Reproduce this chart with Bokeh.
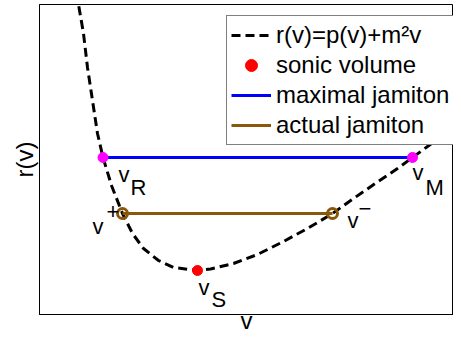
from bokeh.plotting import figure
from bokeh.models import Range1d, FixedTicker, Legend, LegendItem, Label
from bokeh.embed import file_html
from bokeh.resources import INLINE

# curve r(v) = p(v) + m^2 v (arbitrary units)
v_curve = [0.925, 0.975, 1.10, 1.20, 1.325, 1.45, 1.5875, 1.80, 2.075, 2.325, 2.60,
           2.975, 3.35, 3.95, 4.275, 4.85, 5.45, 6.10, 6.70, 7.325, 7.85, 8.45,
           8.95, 9.325, 9.70, 10.15, 10.65]
r_curve = [8.05, 7.75, 7.025, 6.175, 5.35, 4.525, 3.925, 3.225, 2.525, 2.025, 1.65,
           1.35, 1.175, 1.10, 1.1375, 1.275, 1.50, 1.825, 2.15, 2.525, 2.90, 3.3125,
           3.65, 3.925, 4.20, 4.525, 4.90]

v_sonic = [3.95]
r_sonic = [1.10]
v_max = [1.5875, 9.325]
r_max = [3.925, 3.925]
v_act = [2.075, 7.325]
r_act = [2.525, 2.525]

FONT = "Liberation Sans"
BROWN = "#8a5808"

p = figure(width=453, height=337, x_range=Range1d(0, 10.35), y_range=Range1d(0, 7.75),
           output_backend="svg", toolbar_location=None,
           min_border_left=39, min_border_right=0, min_border_top=4, min_border_bottom=23)
p.grid.visible = False
p.outline_line_color = "black"
p.outline_line_width = 1
p.background_fill_color = "white"
p.border_fill_color = "white"

for ax in (p.xaxis[0], p.yaxis[0]):
    ax.ticker = FixedTicker(ticks=[])
    ax.major_tick_out = 0
    ax.major_tick_in = 0
    ax.minor_tick_out = 0
    ax.minor_tick_in = 0
    ax.major_label_standoff = 0
    ax.axis_line_color = "black"
    ax.axis_line_width = 1
    ax.axis_label_text_font = FONT
    ax.axis_label_text_font_size = "24px"
    ax.axis_label_text_font_style = "normal"
    ax.axis_label_text_color = "black"
p.xaxis.axis_label = "v"
p.yaxis.axis_label = "r(v)"
p.xaxis.axis_label_standoff = -8
p.yaxis.axis_label_standoff = 2

r_c = p.line(v_curve, r_curve, line_color="black", line_width=3, line_dash="9 5")
r_b = p.line(v_max, r_max, line_color="#0000ff", line_width=3)
r_a = p.line(v_act, r_act, line_color=BROWN, line_width=3)
p.scatter(v_max, r_max, size=10, fill_color="#ff00ff", line_color="#ff00ff")
p.scatter(v_act, r_act, size=10, fill_color=None, line_color=BROWN, line_width=3)
r_s = p.scatter(v_sonic, r_sonic, size=10, fill_color="#ff0000", line_color="#ff0000")

def lab(x, y, txt, dx, dy):
    p.add_layout(Label(x=x, y=y, text=txt, x_offset=dx, y_offset=dy,
                       text_font=FONT, text_font_size="22px", text_color="black",
                       text_align="left", text_baseline="alphabetic"))

lab(v_max[0], r_max[0], "v", 15.5, -17)
lab(v_max[0], r_max[0], "R", 27.5, -30)
lab(v_max[1], r_max[1], "v", 0, -15)
lab(v_max[1], r_max[1], "M", 13, -30)
lab(v_sonic[0], r_sonic[0], "v", 1, -17)
lab(v_sonic[0], r_sonic[0], "S", 14, -29)
lab(v_act[0], r_act[0], "v", -30, -13)
lab(v_act[0], r_act[0], "+", -16, 2)
lab(v_act[1], r_act[1], "v", 15, -7)
lab(v_act[1], r_act[1], "\u2212", 26, 5)

legend = Legend(items=[
    LegendItem(label="r(v)=p(v)+m\u00b2v", renderers=[r_c]),
    LegendItem(label="sonic volume", renderers=[r_s]),
    LegendItem(label="maximal jamiton", renderers=[r_b]),
    LegendItem(label="actual jamiton", renderers=[r_a]),
], location=(187, 169))
legend.label_text_font = FONT
legend.label_text_font_size = "24px"
legend.label_text_color = "black"
legend.label_height = 30
legend.glyph_height = 30
legend.glyph_width = 40
legend.label_standoff = 5
legend.spacing = 0
legend.padding = 4
legend.margin = 0
legend.border_line_color = "black"
legend.border_line_width = 1
legend.background_fill_color = "white"
legend.background_fill_alpha = 1.0
p.add_layout(legend, "center")

open("out.html", "w").write(file_html(p, INLINE))
